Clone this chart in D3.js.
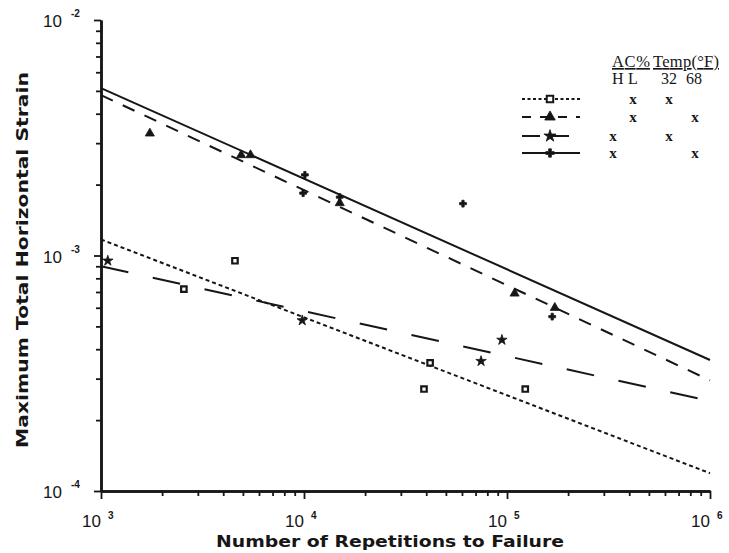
<!DOCTYPE html>
<html>
<head>
<meta charset="utf-8">
<script src="https://cdn.jsdelivr.net/npm/d3@7/dist/d3.min.js"></script>
<style>
  html, body { margin: 0; padding: 0; background: #fff; }
  svg { display: block; }
</style>
</head>
<body>
<svg id="chart" width="729" height="553"></svg>
<script>
// Fatigue data: repetitions to failure vs. maximum total horizontal strain
const xTickValues = [1e3, 1e4, 1e5, 1e6];
const xTickExps = ["3", "4", "5", "6"];
const yTickValues = [1e-4, 1e-3, 1e-2];
const yTickExps = ["-4", "-3", "-2"];

// measured points [repetitions, strain]
const squarePts = [[2560, 7.2e-4], [4570, 9.5e-4], [41800, 3.5e-4], [39000, 2.71e-4], [123000, 2.71e-4]];
const trianglePts = [[1740, 3.3e-3], [4900, 2.67e-3], [5450, 2.67e-3], [15000, 1.67e-3], [109000, 6.9e-4], [172000, 6.0e-4]];
const starPts = [[1080, 9.5e-4], [9800, 5.3e-4], [74500, 3.56e-4], [94400, 4.38e-4]];
const plusPts = [[10100, 2.2e-3], [9900, 1.84e-3], [15000, 1.77e-3], [60700, 1.66e-3], [167000, 5.5e-4]];

// fitted lines [repetitions, strain] at both ends
const squareFit = [[1e3, 1.17e-3], [1e6, 1.19e-4]];
const triangleFit = [[1e3, 4.8e-3], [1e6, 2.95e-4]];
const starFit = [[1e3, 9.0e-4], [1e6, 2.41e-4]];
const plusFit = [[1e3, 5.14e-3], [1e6, 3.6e-4]];

// legend: AC% (H/L) and Temp (32/68) for each series
const legendAC = ["L", "L", "H", "H"];
const legendTemp = ["32", "68", "32", "68"];

const ink = "#161616";
const svg = d3.select("#chart");
const x = d3.scaleLog().domain([1e3, 1e6]).range([101, 710]);
const y = d3.scaleLog().domain([1e-4, 1e-2]).range([491, 20]);

const minorOf = (lo, hi) => {
  const v = [];
  for (let d = lo; d < hi; d *= 10) for (let k = 2; k <= 9; k++) v.push(d * k);
  return v;
};

// X axis
const gx = svg.append("g").attr("transform", "translate(0,491)");
gx.call(d3.axisBottom(x).tickValues(minorOf(1e3, 1e6)).tickSize(5).tickFormat("").tickSizeOuter(0));
gx.append("g").call(d3.axisBottom(x).tickValues(xTickValues).tickSize(8).tickFormat("").tickSizeOuter(0));
gx.selectAll(".domain").attr("stroke", ink).attr("stroke-width", 2.5);
gx.selectAll(".tick line").attr("stroke", ink).attr("stroke-width", 1.8);

// Y axis
const gy = svg.append("g").attr("transform", "translate(101,0)");
gy.call(d3.axisLeft(y).tickValues(minorOf(1e-4, 1e-2)).tickSize(5).tickFormat("").tickSizeOuter(0));
gy.append("g").call(d3.axisLeft(y).tickValues(yTickValues).tickSize(7).tickFormat("").tickSizeOuter(0));
gy.selectAll(".domain").attr("stroke", ink).attr("stroke-width", 2.5);
gy.selectAll(".tick line").attr("stroke", ink).attr("stroke-width", 1.8);

// tick labels as powers of ten
const labFont = "Liberation Sans, Arial, sans-serif";
xTickValues.forEach((v, i) => {
  const t = svg.append("text")
    .attr("x", x(v) - 19).attr("y", 527)
    .attr("font-family", labFont).attr("font-size", 17).attr("fill", ink);
  t.append("tspan").text("10");
  t.append("tspan").attr("dx", 7).attr("dy", -8).attr("font-size", 10).attr("font-weight", "bold").text(xTickExps[i]);
});
yTickValues.forEach((v, i) => {
  const t = svg.append("text")
    .attr("x", 43).attr("y", y(v) + 7)
    .attr("font-family", labFont).attr("font-size", 17).attr("fill", ink);
  t.append("tspan").text("10");
  t.append("tspan").attr("dx", 9).attr("dy", -10).attr("font-size", 10).attr("font-weight", "bold").text(yTickExps[i]);
});

// axis titles
svg.append("text")
  .attr("x", 216).attr("y", 547)
  .attr("font-family", "DejaVu Sans, sans-serif").attr("font-weight", "bold")
  .attr("font-size", 15).attr("fill", ink)
  .attr("textLength", 348).attr("lengthAdjust", "spacingAndGlyphs")
  .text("Number of Repetitions to Failure");
svg.append("text")
  .attr("transform", "translate(28,448) rotate(-90)")
  .attr("font-family", "DejaVu Sans, sans-serif").attr("font-weight", "bold")
  .attr("font-size", 15).attr("fill", ink)
  .attr("textLength", 376).attr("lengthAdjust", "spacingAndGlyphs")
  .text("Maximum Total Horizontal Strain");

// series styling
const series = [
  { pts: squarePts, fit: squareFit, dash: "4,3", legendDash: "3,2.5", width: 2, sym: d3.symbolSquare, size: 30, fill: "#fff" },
  { pts: trianglePts, fit: triangleFit, dash: "13,11", legendDash: "9,9", width: 2, sym: d3.symbolTriangle, size: 36, fill: ink },
  { pts: starPts, fit: starFit, dash: "28,25", legendDash: "18,11", width: 2, sym: d3.symbolStar, size: 34, fill: ink },
  { pts: plusPts, fit: plusFit, dash: null, legendDash: null, width: 2, sym: d3.symbolCross, size: 26, fill: ink }
];

const line = d3.line().x(d => x(d[0])).y(d => y(d[1]));
const plot = svg.append("g");

series.forEach(s => {
  plot.append("path")
    .attr("d", line(s.fit))
    .attr("fill", "none").attr("stroke", ink)
    .attr("stroke-width", s.width)
    .attr("stroke-dasharray", s.dash);
});

series.forEach(s => {
  plot.selectAll(null).data(s.pts).enter().append("path")
    .attr("transform", d => `translate(${x(d[0])},${y(d[1])})`)
    .attr("d", d3.symbol().type(s.sym).size(s.size))
    .attr("fill", s.fill).attr("stroke", ink)
    .attr("stroke-width", s.fill === "#fff" ? 2.2 : 0.8);
});

// legend
const lg = svg.append("g").attr("font-family", "Liberation Serif, Times New Roman, serif").attr("fill", ink);
lg.append("text").attr("x", 612).attr("y", 67).attr("font-size", 16.5)
  .attr("text-decoration", "underline").attr("textLength", 38).text("AC%");
lg.append("text").attr("x", 653).attr("y", 67).attr("font-size", 16.5)
  .attr("text-decoration", "underline").attr("textLength", 66).text("Temp(°F)");
[["H", 612], ["L", 628], ["32", 661], ["68", 686]].forEach(([t, px]) => {
  lg.append("text").attr("x", px).attr("y", 84).attr("font-size", 16).text(t);
});

const acX = { H: 613, L: 633 };
const tempX = { "32": 669, "68": 695 };
const rowY = [99, 117, 136, 153];
series.forEach((s, i) => {
  const yy = rowY[i];
  lg.append("line")
    .attr("x1", 522).attr("x2", 580).attr("y1", yy).attr("y2", yy)
    .attr("stroke", ink).attr("stroke-width", s.width)
    .attr("stroke-dasharray", s.legendDash);
  lg.append("path")
    .attr("transform", `translate(550,${yy})`)
    .attr("d", d3.symbol().type(s.sym).size(s.size + 12))
    .attr("fill", s.fill).attr("stroke", ink)
    .attr("stroke-width", s.fill === "#fff" ? 2 : 0.8);
  [acX[legendAC[i]], tempX[legendTemp[i]]].forEach(px => {
    lg.append("text").attr("x", px).attr("y", yy + 5)
      .attr("font-size", 15).attr("font-weight", "bold").attr("text-anchor", "middle").text("x");
  });
});
</script>
</body>
</html>
